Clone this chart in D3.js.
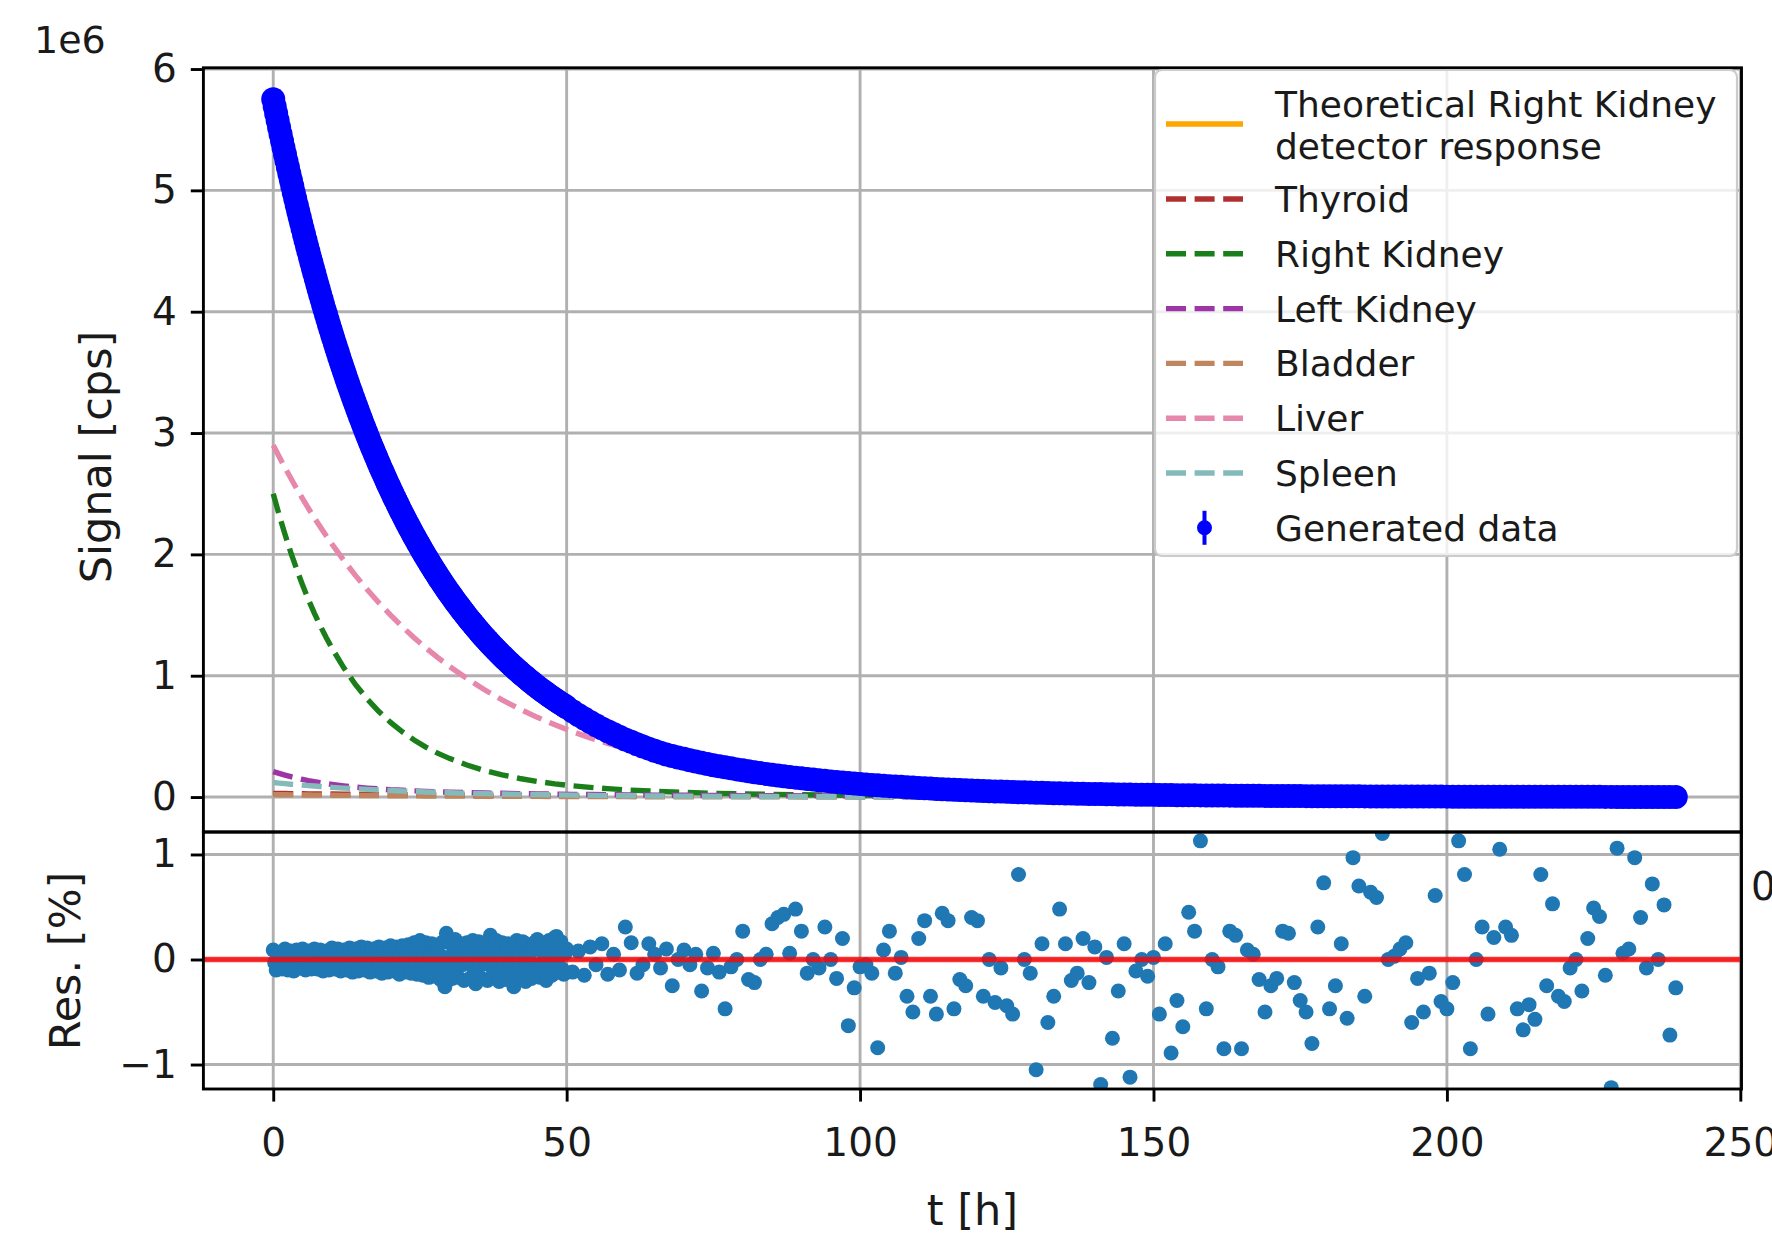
<!DOCTYPE html>
<html><head><meta charset="utf-8">
<script src="https://cdn.jsdelivr.net/npm/d3@7"></script>
<style>body{margin:0;background:#fff} svg{display:block} text{font-family:"DejaVu Sans",sans-serif}</style>
</head><body><svg id="c" width="1772" height="1234"></svg>
<script>
// ---------- DATA ----------
const tData = [0,0.25,0.5,0.75,1,1.25,1.5,1.75,2,2.25,
2.5,2.75,3,3.25,3.5,3.75,4,4.25,4.5,4.75,
5,5.25,5.5,5.75,6,6.25,6.5,6.75,7,7.25,
7.5,7.75,8,8.25,8.5,8.75,9,9.25,9.5,9.75,
10,10.25,10.5,10.75,11,11.25,11.5,11.75,12,12.25,
12.5,12.75,13,13.25,13.5,13.75,14,14.25,14.5,14.75,
15,15.25,15.5,15.75,16,16.25,16.5,16.75,17,17.25,
17.5,17.75,18,18.25,18.5,18.75,19,19.25,19.5,19.75,
20,20.25,20.5,20.75,21,21.25,21.5,21.75,22,22.25,
22.5,22.75,23,23.25,23.5,23.75,24,24.25,24.5,24.75,
25,25.25,25.5,25.75,26,26.25,26.5,26.75,27,27.25,
27.5,27.75,28,28.25,28.5,28.75,29,29.25,29.5,29.75,
30,30.25,30.5,30.75,31,31.25,31.5,31.75,32,32.25,
32.5,32.75,33,33.25,33.5,33.75,34,34.25,34.5,34.75,
35,35.25,35.5,35.75,36,36.25,36.5,36.75,37,37.25,
37.5,37.75,38,38.25,38.5,38.75,39,39.25,39.5,39.75,
40,40.25,40.5,40.75,41,41.25,41.5,41.75,42,42.25,
42.5,42.75,43,43.25,43.5,43.75,44,44.25,44.5,44.75,
45,45.25,45.5,45.75,46,46.25,46.5,46.75,47,47.25,
47.5,47.75,48,48.25,48.5,48.75,49,49.25,49.5,49.75,
50,51,52,53,54,55,56,57,58,59,60,61,62,63,64,65,66,67,68,69,70,71,72,73,74,75,76,77,78,79,80,81,82,83,84,85,86,87,88,89,90,91,92,93,94,95,96,97,98,99,
100,101,102,103,104,105,106,107,108,109,110,111,112,113,114,115,116,117,118,119,120,121,122,123,124,125,126,127,128,129,130,131,132,133,134,135,136,137,138,139,140,141,142,143,144,145,146,147,148,149,
150,151,152,153,154,155,156,157,158,159,160,161,162,163,164,165,166,167,168,169,170,171,172,173,174,175,176,177,178,179,180,181,182,183,184,185,186,187,188,189,190,191,192,193,194,195,196,197,198,199,
200,201,202,203,204,205,206,207,208,209,210,211,212,213,214,215,216,217,218,219,220,221,222,223,224,225,226,227,228,229,230,231,232,233,234,235,236,237,238,239];

// Generated data, in units of 1e6 cps
const signal = [5.750,5.691,5.633,5.576,5.519,5.463,5.407,5.352,5.297,5.243,
5.190,5.137,5.085,5.033,4.981,4.930,4.880,4.830,4.781,4.732,
4.684,4.636,4.589,4.542,4.496,4.450,4.405,4.360,4.316,4.272,
4.228,4.185,4.142,4.100,4.058,4.017,3.976,3.935,3.895,3.855,
3.816,3.777,3.739,3.701,3.663,3.625,3.588,3.552,3.516,3.480,
3.444,3.409,3.374,3.340,3.306,3.272,3.239,3.206,3.173,3.141,
3.109,3.077,3.046,3.015,2.984,2.953,2.923,2.893,2.864,2.835,
2.806,2.777,2.749,2.721,2.693,2.666,2.639,2.612,2.585,2.559,
2.533,2.507,2.481,2.456,2.431,2.406,2.382,2.358,2.334,2.310,
2.286,2.263,2.240,2.217,2.195,2.172,2.150,2.128,2.107,2.085,
2.064,2.043,2.022,2.001,1.981,1.961,1.941,1.921,1.902,1.882,
1.863,1.844,1.825,1.806,1.788,1.770,1.752,1.734,1.717,1.699,
1.682,1.665,1.648,1.631,1.614,1.598,1.582,1.566,1.550,1.534,
1.518,1.502,1.487,1.472,1.457,1.442,1.428,1.413,1.399,1.384,
1.370,1.356,1.342,1.328,1.315,1.302,1.289,1.275,1.262,1.249,
1.237,1.224,1.212,1.199,1.187,1.175,1.163,1.151,1.140,1.128,
1.116,1.104,1.093,1.082,1.071,1.060,1.049,1.038,1.028,1.017,
1.007,0.997,0.987,0.977,0.967,0.957,0.947,0.937,0.928,0.918,
0.909,0.899,0.890,0.881,0.872,0.863,0.855,0.846,0.837,0.828,
0.820,0.812,0.804,0.796,0.788,0.780,0.772,0.764,0.756,0.748,
0.740,0.707,0.676,0.647,0.619,0.592,0.566,0.542,0.519,0.496,
0.475,0.455,0.435,0.417,0.399,0.382,0.366,0.350,0.338,0.326,
0.315,0.304,0.293,0.283,0.273,0.263,0.254,0.245,0.237,0.228,
0.220,0.213,0.205,0.198,0.191,0.184,0.178,0.172,0.166,0.160,
0.154,0.149,0.144,0.139,0.134,0.129,0.125,0.120,0.116,0.112,
0.108,0.104,0.100,0.097,0.093,0.090,0.087,0.084,0.081,0.078,
0.075,0.072,0.070,0.067,0.065,0.062,0.060,0.058,0.056,0.054,
0.052,0.050,0.048,0.046,0.045,0.043,0.042,0.040,0.039,0.037,
0.036,0.035,0.033,0.032,0.031,0.030,0.029,0.028,0.027,0.026,
0.025,0.0242,0.0234,0.0226,0.0219,0.0212,0.0205,0.0198,0.0192,0.0186,
0.0180,0.0174,0.0168,0.0163,0.0157,0.0152,0.0147,0.0143,0.0138,0.0134,
0.0129,0.0125,0.0121,0.0117,0.0113,0.0110,0.0106,0.0103,0.0099,0.0096,
0.0093,0.0090,0.0087,0.0084,0.0081,0.0079,0.0076,0.0074,0.0071,0.0069,
0.0067,0.0065,0.0063,0.0061,0.0059,0.0057,0.0055,0.0053,0.0051,0.0050,
0.0048,0.0047,0.0045,0.0044,0.0042,0.0041,0.0040,0.0038,0.0037,0.0036,
0.0035,0.0034,0.0033,0.0032,0.0031,0.0030,0.0029,0.0028,0.0027,0.0026,
0.0025,0.0024,0.0023,0.0023,0.0022,0.0021,0.0020,0.0020,0.0019,0.0018,
0.0018,0.0017,0.0017,0.0016,0.0016,0.0015,0.0015,0.0014,0.0014,0.0013,
0.0013,0.0012,0.0012,0.0011,0.0011,0.0011,0.0010,0.0010,0.0009,0.0009];

// Residuals, %
const residual = [0.09,-0.03,-0.10,0.04,0.07,-0.06,-0.09,0.02,0.10,-0.04,
-0.10,0.06,0.08,-0.02,-0.11,0.05,0.09,-0.06,-0.08,0.03,
0.10,-0.04,-0.10,0.06,0.08,-0.01,-0.09,0.04,0.10,-0.05,
-0.09,0.07,0.09,-0.03,-0.11,0.05,0.08,-0.07,-0.10,0.02,
0.11,-0.04,-0.09,0.06,0.10,-0.02,-0.11,0.05,0.09,-0.06,
-0.10,0.03,0.11,-0.04,-0.12,0.07,0.10,-0.01,-0.11,0.05,
0.12,-0.05,-0.10,0.04,0.11,-0.03,-0.12,0.07,0.10,-0.06,
-0.11,0.02,0.12,-0.05,-0.13,0.08,0.11,-0.03,-0.12,0.05,
0.13,-0.06,-0.11,0.04,0.12,-0.02,-0.14,0.07,0.13,-0.05,
-0.12,0.03,0.14,-0.07,-0.13,0.06,0.16,-0.04,-0.14,0.08,
0.18,-0.06,-0.15,0.05,0.16,-0.08,-0.17,0.04,0.15,-0.03,
-0.16,0.10,0.14,-0.07,-0.19,0.03,0.17,-0.26,0.25,-0.10,
0.16,-0.04,-0.18,0.07,0.19,-0.09,-0.17,0.04,0.15,-0.05,
-0.20,0.08,0.16,-0.03,-0.18,0.06,0.18,-0.11,-0.23,0.02,
0.17,-0.06,-0.18,0.09,0.15,-0.04,-0.20,0.08,0.23,-0.07,
-0.14,0.05,0.18,-0.09,-0.21,0.03,0.16,-0.06,-0.19,0.10,
0.15,-0.05,-0.17,0.07,-0.26,0.12,0.18,-0.08,-0.15,0.04,
0.17,-0.10,-0.21,0.06,0.14,-0.03,-0.18,0.09,0.16,-0.07,
0.19,-0.05,-0.17,0.08,0.14,-0.12,-0.20,0.05,0.18,-0.06,
-0.15,0.09,0.21,0.22,-0.12,0.03,0.17,-0.09,-0.14,0.06,
0.10,-0.12,0.08,-0.15,0.12,-0.05,0.15,-0.14,0.05,-0.10,
0.31,0.16,-0.13,-0.05,0.15,0.05,-0.08,0.10,-0.25,0.00,
0.09,-0.05,0.05,-0.30,-0.08,0.06,-0.12,-0.47,-0.07,0.00,
0.27,-0.19,-0.22,0.00,0.05,0.34,0.40,0.43,0.06,0.48,
0.27,-0.13,0.00,-0.08,0.31,0.00,-0.18,0.20,-0.63,-0.27,
-0.07,-0.05,-0.13,-0.84,0.09,0.27,-0.13,0.02,-0.35,-0.50,
0.20,0.37,-0.35,-0.52,0.44,0.37,-0.47,-0.19,-0.25,0.40,
0.37,-0.35,0.00,-0.41,-0.08,-0.44,-0.52,0.81,0.00,-0.13,
-1.05,0.15,-0.60,-0.35,0.48,0.15,-0.20,-0.13,0.20,-0.22,
0.12,-1.19,0.02,-0.75,-0.30,0.15,-1.12,-0.11,0.00,-0.16,
0.02,-0.52,0.15,-0.89,-0.39,-0.64,0.45,0.27,1.13,-0.47,
0.00,-0.07,-0.85,0.27,0.23,-0.85,0.09,0.05,-0.19,-0.50,
-0.25,-0.18,0.27,0.25,-0.22,-0.39,-0.50,-0.80,0.31,0.73,
-0.47,-0.25,0.15,-0.56,0.97,0.70,-0.35,0.64,0.59,1.20,
0.00,0.03,0.10,0.16,-0.60,-0.18,-0.50,-0.13,0.61,-0.40,
-0.47,-0.22,1.13,0.81,-0.85,0.00,0.31,-0.52,0.21,1.05,
0.31,0.23,-0.47,-0.67,-0.43,-0.57,0.81,-0.25,0.53,-0.35,
-0.40,-0.08,0.00,-0.30,0.20,0.49,0.41,-0.15,-1.22,1.06,
0.06,0.10,0.97,0.40,-0.08,0.72,0.00,0.52,-0.72,-0.27];

// Model component curves (1e6 cps)
const tModel = [0,1,2,3,4,5,6,7,8,9,10,12,14,16,18,20,22,24,26,28,30,33,36,39,42,45,48,51,54,57,60,65,70,75,80,90,100,110,120,140,160,180,200,220,239];
const thyroid = [0.030,0.0294,0.0288,0.0283,0.0277,0.0272,0.0266,0.0261,0.0256,0.0251,0.0246,
0.0236,0.0227,0.0218,0.0209,0.0201,0.0193,0.0186,0.0179,0.0171,0.0165,
0.0155,0.0146,0.0137,0.0130,0.0122,0.0115,0.0108,0.0102,0.0096,0.0090,
0.0082,0.0074,0.0067,0.0061,0.0050,0.0041,0.0033,0.0027,0.0018,0.0012,0.0008,0.0005,0.0004,0.0002];
const rightKidney = [2.500,2.326,2.166,2.015,1.877,1.747,1.627,1.516,1.413,1.317,1.227,
1.067,0.928,0.809,0.705,0.615,0.538,0.470,0.412,0.362,0.319,
0.264,0.219,0.183,0.153,0.129,0.109,0.093,0.080,0.069,0.059,
0.048,0.038,0.031,0.026,0.019,0.013,0.0096,0.0075,0.0045,0.0027,0.0017,0.0010,0.0006,0.0004];
const leftKidney = [0.210,0.195,0.181,0.168,0.156,0.145,0.135,0.127,0.118,0.111,0.104,
0.092,0.082,0.074,0.067,0.060,0.056,0.051,0.047,0.043,0.040,
0.037,0.033,0.031,0.028,0.026,0.024,0.022,0.021,0.019,0.018,
0.016,0.015,0.013,0.012,0.010,0.008,0.0067,0.0055,0.0037,0.0025,0.0016,0.0011,0.0007,0.0005];
const bladder = [0.020,0.0194,0.0188,0.0183,0.0177,0.0172,0.0167,0.0162,0.0157,0.0153,0.0148,
0.0140,0.0131,0.0124,0.0117,0.0110,0.0103,0.0097,0.0092,0.0086,0.0081,
0.0074,0.0068,0.0062,0.0057,0.0052,0.0047,0.0043,0.0040,0.0036,0.0033,
0.0028,0.0024,0.0021,0.0018,0.0013,0.0010,0.0007,0.0005,0.0003,0.0002,0.0001,0.00005,0.00003,0.00002];
const liver = [2.900,2.806,2.715,2.627,2.541,2.459,2.379,2.302,2.227,2.155,2.085,
1.952,1.827,1.710,1.601,1.499,1.403,1.313,1.230,1.151,1.078,
0.977,0.884,0.801,0.725,0.657,0.595,0.539,0.488,0.442,0.400,
0.340,0.288,0.244,0.207,0.149,0.107,0.077,0.055,0.029,0.015,0.0075,0.0041,0.0020,0.0012];
const spleen = [0.120,0.115,0.111,0.106,0.102,0.098,0.094,0.091,0.087,0.084,0.080,
0.074,0.069,0.063,0.058,0.054,0.050,0.046,0.042,0.039,0.036,
0.032,0.028,0.025,0.022,0.020,0.018,0.016,0.014,0.012,0.011,
0.0089,0.0073,0.0060,0.0049,0.0032,0.0022,0.0014,0.0010,0.0004,0.0002,0.0001,0.00004,0.00002,0.00001];

const xTicks = [0,50,100,150,200,250];
const yTicksTop = [0,1,2,3,4,5,6];
const yTicksRes = [-1,0,1];
const componentNames = ["Thyroid","Right Kidney","Left Kidney","Bladder","Liver","Spleen"];
const theoryLabel = ["Theoretical Right Kidney","detector response"];
const dataLabel = "Generated data";

// ---------- LAYOUT ----------
const components = [
  {name: componentNames[0], values: thyroid, color: "#b03030"},
  {name: componentNames[1], values: rightKidney, color: "#1a7f1a"},
  {name: componentNames[2], values: leftKidney, color: "#9e35a6"},
  {name: componentNames[3], values: bladder, color: "#c0855f"},
  {name: componentNames[4], values: liver, color: "#e687ab"},
  {name: componentNames[5], values: spleen, color: "#84baba"}
];
const L = 203.4, R = 1741.5, T = 67.8, MID = 832, B = 1089;
const x = d3.scaleLinear().domain([-11.9, 250.2]).range([L, R]);
const yTop = d3.scaleLinear().domain([-0.288, 6.01]).range([MID, T]);
const yRes = d3.scaleLinear().domain([-1.233, 1.214]).range([B, MID]);
const nPts = Math.min(tData.length, signal.length, residual.length);
const sigPts = d3.range(nPts).map(i=>[tData[i], signal[i]]);
const resPts = d3.range(nPts).map(i=>[tData[i], residual[i]]);

const svg = d3.select("#c");
svg.append("rect").attr("width",1772).attr("height",1234).attr("fill","#fff");
const defs = svg.append("defs");
defs.append("clipPath").attr("id","clipTop").append("rect").attr("x",L).attr("y",T).attr("width",R-L).attr("height",MID-T);
defs.append("clipPath").attr("id","clipRes").append("rect").attr("x",L).attr("y",MID).attr("width",R-L).attr("height",B-MID);

const GRID = "#b0b0b0", GW = 2.9, LW = 5.4, DASH = "20,8.6";

// ---- top panel grid
const gTop = svg.append("g");
gTop.selectAll("line.gx").data(xTicks).join("line")
  .attr("x1",d=>x(d)).attr("x2",d=>x(d)).attr("y1",T).attr("y2",MID)
  .attr("stroke",GRID).attr("stroke-width",GW);
gTop.selectAll("line.gy").data(yTicksTop).join("line")
  .attr("x1",L).attr("x2",R).attr("y1",d=>yTop(d)).attr("y2",d=>yTop(d))
  .attr("stroke",GRID).attr("stroke-width",GW);

const plotTop = svg.append("g").attr("clip-path","url(#clipTop)");
// theoretical response (hidden under data, like in the reference)
plotTop.append("path")
  .datum(sigPts)
  .attr("d", d3.line().x(d=>x(d[0])).y(d=>yTop(d[1])))
  .attr("fill","none").attr("stroke","#ffa500").attr("stroke-width",LW);
components.forEach(c=>{
  plotTop.append("path")
    .datum(tModel.map((t,i)=>[t,c.values[i]]))
    .attr("d", d3.line().x(d=>x(d[0])).y(d=>yTop(d[1])))
    .attr("fill","none").attr("stroke",c.color).attr("stroke-width",LW)
    .attr("stroke-dasharray",DASH);
});
plotTop.selectAll("circle.dat").data(sigPts).join("circle")
  .attr("cx",d=>x(d[0])).attr("cy",d=>yTop(d[1])).attr("r",12).attr("fill","#0000ff");

// ---- residual panel
const gRes = svg.append("g");
gRes.selectAll("line.gx").data(xTicks).join("line")
  .attr("x1",d=>x(d)).attr("x2",d=>x(d)).attr("y1",MID).attr("y2",B)
  .attr("stroke",GRID).attr("stroke-width",GW);
gRes.selectAll("line.gy").data(yTicksRes).join("line")
  .attr("x1",L).attr("x2",R).attr("y1",d=>yRes(d)).attr("y2",d=>yRes(d))
  .attr("stroke",GRID).attr("stroke-width",GW);
const plotRes = svg.append("g").attr("clip-path","url(#clipRes)");
plotRes.selectAll("circle.res").data(resPts).join("circle")
  .attr("cx",d=>x(d[0])).attr("cy",d=>yRes(d[1])).attr("r",7.5).attr("fill","#1f77b4");
plotRes.append("line").attr("x1",L).attr("x2",R).attr("y1",yRes(0)).attr("y2",yRes(0))
  .attr("stroke","#ff0000").attr("stroke-opacity",0.8).attr("stroke-width",LW);

// ---- axes
function styleAxis(g){
  g.select(".domain").remove();
  g.selectAll(".tick line").attr("stroke","#000").attr("stroke-width",GW);
  g.selectAll(".tick text").attr("font-size",39).attr("fill","#1a1a1a").attr("font-family","DejaVu Sans");
}
svg.append("g").attr("transform",`translate(${L},0)`)
  .call(d3.axisLeft(yTop).tickValues(yTicksTop).tickSize(12.6).tickPadding(14).tickFormat(d3.format("d")))
  .call(styleAxis);
svg.append("g").attr("transform",`translate(${L},0)`)
  .call(d3.axisLeft(yRes).tickValues(yTicksRes).tickSize(12.6).tickPadding(14).tickFormat(d3.format("d")))
  .call(styleAxis);
const xa = svg.append("g").attr("transform",`translate(0,${B})`)
  .call(d3.axisBottom(x).tickValues(xTicks).tickSize(12.6).tickPadding(12).tickFormat(d3.format("d")))
  .call(styleAxis);
xa.selectAll(".tick text").attr("y",67).attr("dy",null);

// spines
[[T,MID],[MID,B]].forEach(([a,b])=>{
  svg.append("rect").attr("x",L).attr("y",a).attr("width",R-L).attr("height",b-a)
    .attr("fill","none").attr("stroke","#000").attr("stroke-width",GW);
});

// labels
svg.append("text").attr("x",34).attr("y",53).attr("font-size",38).attr("fill","#1a1a1a").text("1e6");
svg.append("text").attr("transform","translate(111,457) rotate(-90)").attr("text-anchor","middle")
  .attr("font-size",43).attr("fill","#1a1a1a").text("Signal [cps]");
svg.append("text").attr("transform","translate(80,961) rotate(-90)").attr("text-anchor","middle")
  .attr("font-size",43).attr("fill","#1a1a1a").text("Res. [%]");
svg.append("text").attr("x",(L+R)/2).attr("y",1225).attr("text-anchor","middle")
  .attr("font-size",43).attr("fill","#1a1a1a").text("t [h]");
svg.append("text").attr("x",1751).attr("y",900).attr("font-size",39).attr("fill","#1a1a1a").text("0");

// ---- legend
const lg = svg.append("g");
lg.append("rect").attr("x",1155).attr("y",70).attr("width",582).attr("height",486).attr("rx",7)
  .attr("fill","#fff").attr("fill-opacity",0.8).attr("stroke","#cccccc").attr("stroke-width",2.2);
const hx0 = 1166, hx1 = 1243, tx = 1275;
lg.append("line").attr("x1",hx0).attr("x2",hx1).attr("y1",124).attr("y2",124)
  .attr("stroke","#ffa500").attr("stroke-width",LW);
lg.append("text").attr("x",tx).attr("y",117).attr("font-size",36).attr("fill","#1a1a1a").text(theoryLabel[0]);
lg.append("text").attr("x",tx).attr("y",159).attr("font-size",36).attr("fill","#1a1a1a").text(theoryLabel[1]);
components.forEach((c,i)=>{
  const yy = 199 + i*54.8;
  lg.append("line").attr("x1",hx0).attr("x2",hx1).attr("y1",yy).attr("y2",yy)
    .attr("stroke",c.color).attr("stroke-width",LW).attr("stroke-dasharray",DASH);
  lg.append("text").attr("x",tx).attr("y",yy+13).attr("font-size",36).attr("fill","#1a1a1a").text(c.name);
});
const gy = 199 + 6*54.8, gx = (hx0+hx1)/2;
lg.append("line").attr("x1",gx).attr("x2",gx).attr("y1",gy-17).attr("y2",gy+17).attr("stroke","#0000ff").attr("stroke-width",4);
lg.append("circle").attr("cx",gx).attr("cy",gy).attr("r",7.5).attr("fill","#0000ff");
lg.append("text").attr("x",tx).attr("y",gy+13).attr("font-size",36).attr("fill","#1a1a1a").text(dataLabel);
</script>
</body></html>
